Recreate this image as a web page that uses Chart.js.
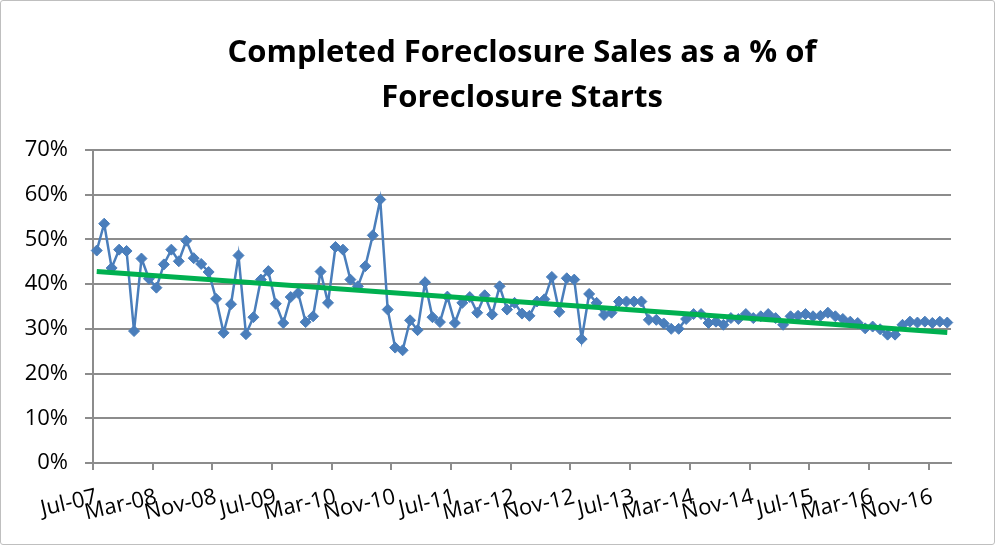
<!DOCTYPE html>
<html>
<head>
<meta charset="utf-8">
<script src="https://cdn.jsdelivr.net/npm/chart.js@4"></script>
<style>
  html, body { margin: 0; padding: 0; background: #fff; }
  #wrap { position: relative; width: 995px; height: 545px; }
  #frame { position: absolute; left: 0; top: 0; width: 995px; height: 545px; box-sizing: border-box; border: 1px solid #bfbfbf; border-radius: 3px; pointer-events: none; }
</style>
</head>
<body>
<div id="wrap">
  <canvas id="c" width="995" height="545"></canvas>
  <div id="frame"></div>
</div>
<script>
const titleLines = ['Completed Foreclosure Sales as a % of', 'Foreclosure Starts'];

const months = [
  'Jul-07','Aug-07','Sep-07','Oct-07','Nov-07','Dec-07',
  'Jan-08','Feb-08','Mar-08','Apr-08','May-08','Jun-08','Jul-08','Aug-08','Sep-08','Oct-08','Nov-08','Dec-08',
  'Jan-09','Feb-09','Mar-09','Apr-09','May-09','Jun-09','Jul-09','Aug-09','Sep-09','Oct-09','Nov-09','Dec-09',
  'Jan-10','Feb-10','Mar-10','Apr-10','May-10','Jun-10','Jul-10','Aug-10','Sep-10','Oct-10','Nov-10','Dec-10',
  'Jan-11','Feb-11','Mar-11','Apr-11','May-11','Jun-11','Jul-11','Aug-11','Sep-11','Oct-11','Nov-11','Dec-11',
  'Jan-12','Feb-12','Mar-12','Apr-12','May-12','Jun-12','Jul-12','Aug-12','Sep-12','Oct-12','Nov-12','Dec-12',
  'Jan-13','Feb-13','Mar-13','Apr-13','May-13','Jun-13','Jul-13','Aug-13','Sep-13','Oct-13','Nov-13','Dec-13',
  'Jan-14','Feb-14','Mar-14','Apr-14','May-14','Jun-14','Jul-14','Aug-14','Sep-14','Oct-14','Nov-14','Dec-14',
  'Jan-15','Feb-15','Mar-15','Apr-15','May-15','Jun-15','Jul-15','Aug-15','Sep-15','Oct-15','Nov-15','Dec-15',
  'Jan-16','Feb-16','Mar-16','Apr-16','May-16','Jun-16','Jul-16','Aug-16','Sep-16','Oct-16','Nov-16','Dec-16',
  'Jan-17'
];

// Completed foreclosure sales as % of foreclosure starts
const salesPct = [
  47.5, 53.5, 43.6, 47.7, 47.4, 29.5, 45.7, 41.2, 39.2, 44.4,
  47.7, 45.1, 49.7, 45.8, 44.5, 42.7, 36.7, 29.1, 35.5, 46.4,
  28.8, 32.6, 41.0, 42.9, 35.6, 31.3, 37.1, 38.0, 31.5, 32.8,
  42.8, 35.8, 48.3, 47.7, 41.0, 39.5, 44.0, 50.9, 58.9, 34.3,
  25.8, 25.2, 31.9, 29.7, 40.4, 32.6, 31.5, 37.2, 31.3, 35.8,
  37.1, 33.6, 37.5, 33.2, 39.5, 34.3, 35.8, 33.4, 32.9, 36.1,
  36.6, 41.6, 33.8, 41.3, 41.0, 27.7, 37.8, 35.8, 33.1, 33.6,
  36.1, 36.1, 36.1, 36.1, 32.0, 32.0, 31.2, 30.0, 30.0, 32.2,
  33.3, 33.3, 31.3, 31.6, 30.9, 32.4, 32.2, 33.3, 32.4, 32.8,
  33.3, 32.4, 30.9, 32.8, 32.9, 33.3, 32.8, 32.9, 33.6, 32.8,
  32.2, 31.6, 31.3, 30.1, 30.5, 29.9, 28.7, 28.7, 30.9, 31.6,
  31.4, 31.6, 31.3, 31.6, 31.4
];

// Linear trend line end values
const trendStart = 42.8;
const trendEnd = 29.2;

const yTicks = [0, 10, 20, 30, 40, 50, 60, 70];
const labelEvery = 8;

const trendData = months.map((m, i) => i === 0 ? trendStart : (i === months.length - 1 ? trendEnd : null));

const FONT = "'Open Sans', Lato, 'DejaVu Sans', sans-serif";
const GRID = '#8c8c8c';

new Chart(document.getElementById('c'), {
  type: 'line',
  data: {
    labels: months,
    datasets: [
      {
        label: 'Linear trend',
        data: trendData,
        borderColor: '#00B050',
        borderWidth: 5,
        pointRadius: 0,
        spanGaps: true,
        tension: 0
      },
      {
        label: 'Completed Foreclosure Sales as a % of Foreclosure Starts',
        data: salesPct,
        borderColor: '#4A7EBB',
        backgroundColor: '#4A7EBB',
        borderWidth: 2.5,
        pointStyle: 'rectRot',
        pointRadius: 5.5,
        pointBorderWidth: 1,
        pointBackgroundColor: '#4A7EBB',
        pointBorderColor: '#4A7EBB',
        tension: 0
      }
    ]
  },
  options: {
    responsive: false,
    animation: false,
    devicePixelRatio: 1,
    layout: { padding: { left: 0, right: 44, top: 0, bottom: 0 } },
    plugins: {
      legend: { display: false },
      tooltip: { enabled: false },
      title: {
        display: true,
        fullSize: false,
        text: titleLines,
        color: '#000',
        font: { family: FONT, size: 31, weight: 'bold', lineHeight: 1.45 },
        padding: { top: 31, bottom: 29 }
      }
    },
    scales: {
      x: {
        type: 'category',
        offset: true,
        afterFit: (s) => { s.height = 82; },
        border: { display: true, color: GRID, width: 2 },
        grid: {
          offset: true,
          drawOnChartArea: false,
          drawTicks: true,
          tickLength: 7,
          lineWidth: 2,
          color: (ctx) => (ctx.index !== undefined && ctx.index % labelEvery === 0) ? GRID : 'rgba(0,0,0,0)'
        },
        ticks: {
          autoSkip: false,
          maxRotation: 13,
          minRotation: 13,
          padding: 14,
          color: '#000',
          font: { family: FONT, size: 22 },
          callback: (v, i) => (i % labelEvery === 0) ? months[i] : ''
        }
      },
      y: {
        min: 0,
        max: 70,
        afterFit: (s) => { s.width = 93; },
        afterBuildTicks: (s) => { s.ticks = yTicks.map(v => ({ value: v })); },
        border: { display: true, color: GRID, width: 2 },
        grid: { color: GRID, lineWidth: 2, tickLength: 8 },
        ticks: {
          padding: 17,
          color: '#000',
          font: { family: FONT, size: 22 },
          callback: (v) => v + '%'
        }
      }
    }
  }
});
</script>
</body>
</html>
